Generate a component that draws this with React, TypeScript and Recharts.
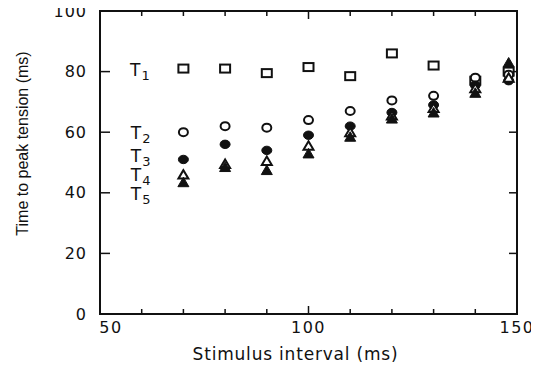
import React from 'react';
import { ScatterChart, Scatter, XAxis, YAxis, Label } from 'recharts';

// ---- data ----
const intervals = [70, 80, 90, 100, 110, 120, 130, 140, 148];
const t1 = [81, 81, 79.5, 81.5, 78.5, 86, 82, 77, 80];
const t2 = [60, 62, 61.5, 64, 67, 70.5, 72, 78, 79];
const t3 = [51, 56, 54, 59, 62, 66.5, 69, 75.5, 77];
const t4 = [46, 49.5, 50.5, 55.5, 60, 65.5, 68, 74.5, 78];
const t5 = [43.5, 48.5, 47.5, 53, 58.5, 64.5, 66.5, 73, 83];

const xTicks = [50, 60, 70, 80, 90, 100, 110, 120, 130, 140, 150];
const xLabelTicks = [50, 100, 150];
const yTicks = [0, 20, 40, 60, 80, 100];

const seriesLabels = ['1', '2', '3', '4', '5'];
const seriesLabelX = [57.2, 57.4, 57.4, 57.4, 57.4];
const seriesLabelY = [80.5, 59.8, 52, 45.8, 39.5];

const X_MIN = 50;
const X_MAX = 150;
const Y_MIN = 0;
const Y_MAX = 100;

// ---- layout ----
const W = 539;
const H = 373;
const M = { top: 11, right: 22, bottom: 0, left: 0 };
const Y_AXIS_W = 100;
const X_AXIS_H = 59;
const PLOT_W = W - M.left - M.right - Y_AXIS_W;
const PLOT_H = H - M.top - M.bottom - X_AXIS_H;

const INK = '#111';
const NARROW = { fontFamily: 'Liberation Sans Narrow, Liberation Sans, Arial, sans-serif' };

// one table for the single scatter layer
const series = [t1, t2, t3, t4, t5];
const innerX = xTicks.filter((v) => v !== X_MIN && v !== X_MAX);
const innerY = yTicks.filter((v) => v !== Y_MIN && v !== Y_MAX);
const table: any[] = [
  { kind: 'frame', x: X_MIN, y: Y_MIN },
  ...innerX.map((v) => ({ kind: 'tb', x: v, y: Y_MIN, v })),
  ...innerX.map((v) => ({ kind: 'tt', x: v, y: Y_MAX, v })),
  ...innerY.map((v) => ({ kind: 'tl', x: X_MIN, y: v, v })),
  ...innerY.map((v) => ({ kind: 'tr', x: X_MAX, y: v, v })),
  ...xLabelTicks.map((v) => ({ kind: 'xl', x: v, y: Y_MIN, v })),
  ...yTicks.map((v) => ({ kind: 'yl', x: X_MIN, y: v, v })),
  ...series.flatMap((ys, s) => ys.map((y, i) => ({ kind: 's' + (s + 1), x: intervals[i], y }))),
  ...seriesLabels.map((s, i) => ({ kind: 'lab', x: seriesLabelX[i], y: seriesLabelY[i], s })),
];

const Mark = (p: any) => {
  const { cx, cy, payload } = p;
  const k = payload.kind;
  switch (k) {
    case 'frame':
      return <rect x={cx} y={cy - PLOT_H} width={PLOT_W} height={PLOT_H} fill="none" stroke={INK} strokeWidth={2} />;
    case 'tb': {
      const len = payload.v === 100 ? 8 : 5;
      return <line x1={cx} y1={cy} x2={cx} y2={cy - len} stroke={INK} strokeWidth={1.5} />;
    }
    case 'tt': {
      const len = payload.v === 100 ? 8 : 5;
      return <line x1={cx} y1={cy} x2={cx} y2={cy + len} stroke={INK} strokeWidth={1.5} />;
    }
    case 'tl':
      return <line x1={cx} y1={cy} x2={cx + 10} y2={cy} stroke={INK} strokeWidth={1.5} />;
    case 'tr':
      return <line x1={cx} y1={cy} x2={cx - 8} y2={cy} stroke={INK} strokeWidth={1.5} />;
    case 'xl':
      return (
        <text
          x={cx + (payload.v === 50 ? 11 : 0)}
          y={cy + 13}
          dy="0.35em"
          textAnchor="middle"
          fontSize={16}
          letterSpacing={1.5}
          fill={INK}
        >
          {payload.v}
        </text>
      );
    case 'yl':
      return (
        <text x={cx - 13} y={cy} dy="0.35em" textAnchor="end" fontSize={16} letterSpacing={1} fill={INK}>
          {payload.v}
        </text>
      );
    case 's1':
      return <rect x={cx - 5} y={cy - 4} width={10} height={8} fill="#fff" stroke={INK} strokeWidth={2} />;
    case 's2':
      return <ellipse cx={cx} cy={cy} rx={4.5} ry={4} fill="#fff" stroke={INK} strokeWidth={2} />;
    case 's3':
      return <ellipse cx={cx} cy={cy} rx={5} ry={4.2} fill={INK} stroke={INK} strokeWidth={1} />;
    case 's4':
      return (
        <polygon
          points={`${cx},${cy - 4.5} ${cx - 5},${cy + 4} ${cx + 5},${cy + 4}`}
          fill="#fff"
          stroke={INK}
          strokeWidth={2}
        />
      );
    case 's5':
      return (
        <polygon
          points={`${cx},${cy - 5} ${cx - 5.5},${cy + 4.5} ${cx + 5.5},${cy + 4.5}`}
          fill={INK}
          stroke={INK}
          strokeWidth={1}
        />
      );
    case 'lab':
      return (
        <text x={cx} y={cy} dy="0.35em" fontSize={17} fill={INK}>
          T
          <tspan fontSize={13} dy={4} dx={1}>
            {payload.s}
          </tspan>
        </text>
      );
    default:
      return <g />;
  }
};

const YTitle = (p: any) => {
  const vb = p.viewBox;
  const cx = 22;
  const cy = vb.y + vb.height / 2 - 19;
  return (
    <text
      x={cx}
      y={cy}
      dy="0.35em"
      transform={`rotate(-90, ${cx}, ${cy})`}
      textAnchor="middle"
      style={NARROW}
      fontSize={16}
      fill={INK}
    >
      Time to peak tension (ms)
    </text>
  );
};

const XTitle = (p: any) => {
  const vb = p.viewBox;
  return (
    <text
      x={vb.x + vb.width / 2 - 13}
      y={354}
      dy="0.35em"
      textAnchor="middle"
      fontSize={17}
      letterSpacing={0.8}
      fill={INK}
    >
      Stimulus interval (ms)
    </text>
  );
};

export default function App() {
  return (
    <div style={{ margin: -8, width: W, fontFamily: 'DejaVu Sans, Verdana, sans-serif' }}>
      <ScatterChart width={W} height={H} margin={M}>
        <XAxis
          dataKey="x"
          type="number"
          domain={[X_MIN, X_MAX]}
          tick={false}
          tickLine={false}
          stroke={INK}
          strokeWidth={2}
          height={X_AXIS_H}
        >
          <Label content={<XTitle />} />
        </XAxis>
        <YAxis
          dataKey="y"
          type="number"
          domain={[Y_MIN, Y_MAX]}
          tick={false}
          tickLine={false}
          stroke={INK}
          strokeWidth={2}
          width={Y_AXIS_W}
        >
          <Label content={<YTitle />} />
        </YAxis>
        <Scatter data={table} shape={Mark} isAnimationActive={false} />
      </ScatterChart>
    </div>
  );
}
